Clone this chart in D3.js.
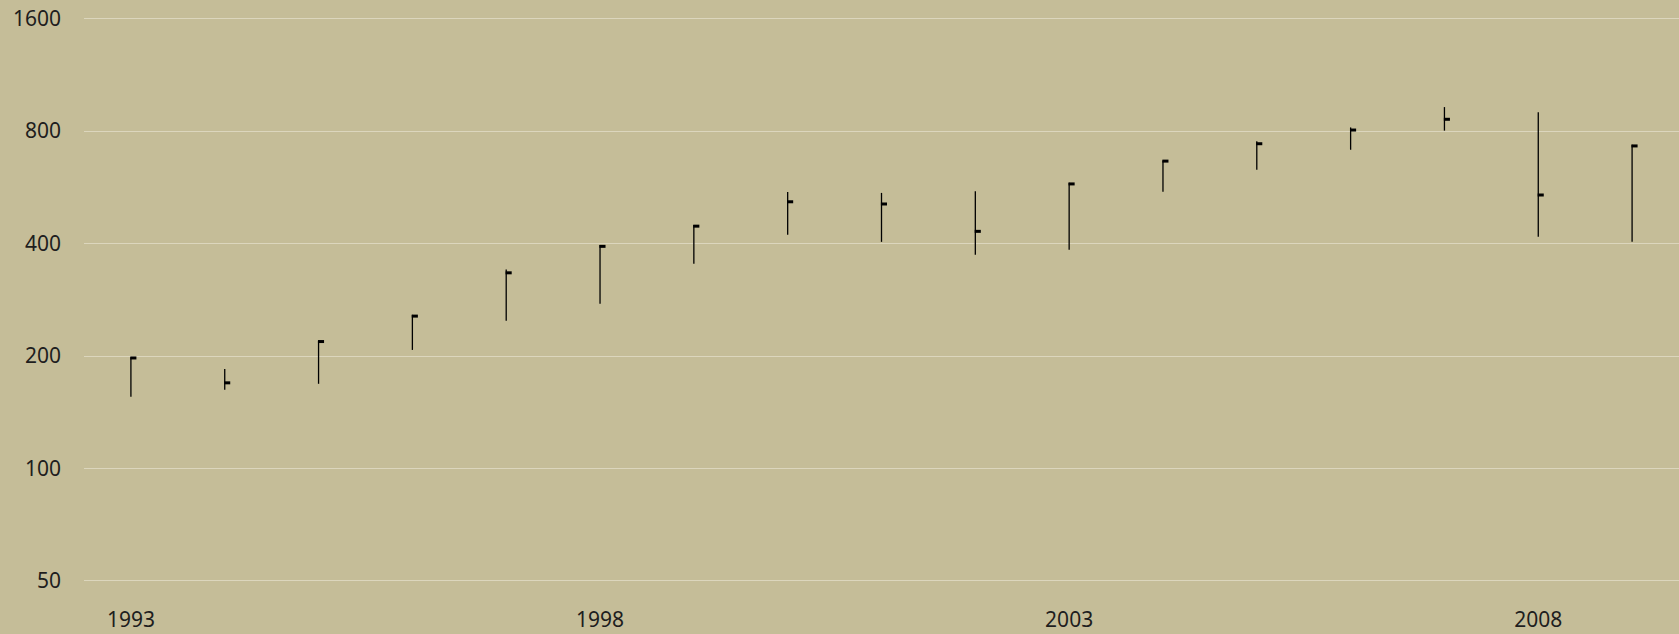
<!DOCTYPE html>
<html>
<head>
<meta charset="utf-8">
<script src="https://cdn.jsdelivr.net/npm/d3@7"></script>
<style>
  html, body { margin: 0; padding: 0; background: #c5bd98; }
  svg { display: block; }
  text { font-family: "Noto Sans", "Open Sans", sans-serif; fill: #1e1e1e; }
</style>
</head>
<body>
<svg id="chart" width="1679" height="634"></svg>
<script>
// yearly high / low / close
const years = [1993, 1994, 1995, 1996, 1997, 1998, 1999, 2000, 2001, 2002, 2003, 2004, 2005, 2006, 2007, 2008, 2009];
const highs = [198, 184, 219, 257, 340, 395, 447, 548, 545, 551, 580, 666, 749, 816, 925, 896, 733];
const lows = [155, 162, 168, 207, 248, 275, 352, 421, 403, 372, 384, 549, 629, 711, 800, 416, 403];
const closes = [197, 169, 218, 255, 333, 392, 444, 516, 509, 430, 576, 663, 738, 803, 858, 538, 728];
const yTicks = [50, 100, 200, 400, 800, 1600];
const xTicks = [1993, 1998, 2003, 2008];

const W = 1679, H = 634;
const margin = {left: 84, right: 0, top: 18.2, bottom: 53.6};
const svg = d3.select('#chart');

const x = d3.scaleLinear().domain([1992.5, 2009.5]).range([margin.left, W - margin.right]);
const y = d3.scaleLog().base(2).domain([50, 1600]).range([H - margin.bottom, margin.top]);

// grid
svg.append('g').selectAll('line')
  .data(yTicks)
  .enter().append('line')
  .attr('x1', margin.left).attr('x2', W)
  .attr('y1', d => Math.round(y(d)) + 0.5).attr('y2', d => Math.round(y(d)) + 0.5)
  .attr('stroke', '#dcd6bd').attr('stroke-width', 1);

// y labels
svg.append('g').selectAll('text')
  .data(yTicks)
  .enter().append('text')
  .attr('x', 61).attr('y', d => y(d))
  .attr('dy', '0.36em')
  .attr('text-anchor', 'end')
  .attr('font-size', 21)
  .text(d => d);

// x labels
svg.append('g').selectAll('text')
  .data(xTicks)
  .enter().append('text')
  .attr('x', d => x(d)).attr('y', 619)
  .attr('dy', '0.36em')
  .attr('text-anchor', 'middle')
  .attr('font-size', 21)
  .text(d => d);

const data = years.map((yr, i) => ({yr, hi: highs[i], lo: lows[i], cl: closes[i]}));
const g = svg.append('g');
g.selectAll('line.range')
  .data(data)
  .enter().append('line')
  .attr('class', 'range')
  .attr('x1', d => x(d.yr)).attr('x2', d => x(d.yr))
  .attr('y1', d => y(d.hi)).attr('y2', d => y(d.lo))
  .attr('stroke', '#000').attr('stroke-width', 1.3);
g.selectAll('line.close')
  .data(data)
  .enter().append('line')
  .attr('class', 'close')
  .attr('x1', d => x(d.yr) - 0.6).attr('x2', d => x(d.yr) + 5.5)
  .attr('y1', d => y(d.cl)).attr('y2', d => y(d.cl))
  .attr('stroke', '#000').attr('stroke-width', 3);
</script>
</body>
</html>
